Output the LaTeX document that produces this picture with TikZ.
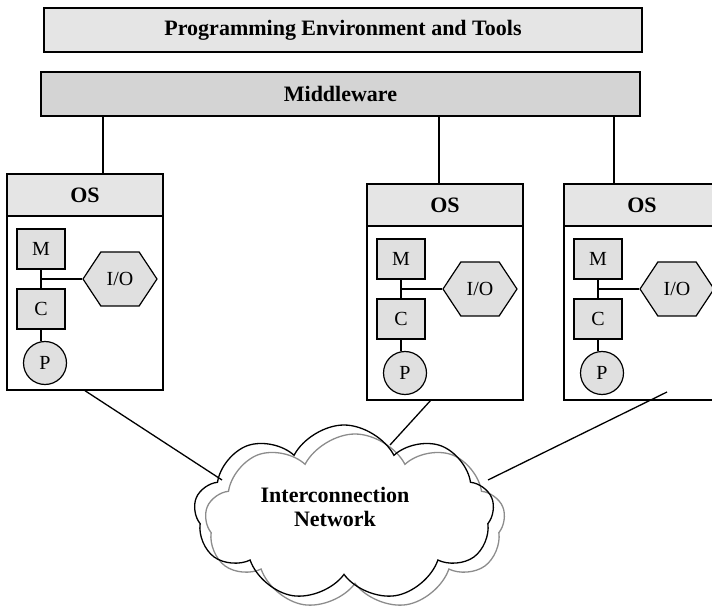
\documentclass[tikz,border=0pt]{standalone}
\usepackage{fontspec}
\setmainfont{Liberation Serif}
\usetikzlibrary{shapes.symbols,shapes.geometric}
\definecolor{barlight}{gray}{0.90}
\definecolor{bardark}{gray}{0.83}
\definecolor{partfill}{gray}{0.88}
\definecolor{shadowgray}{gray}{0.55}
\tikzset{
  lw/.style={line width=1.4pt},
  conn/.style={line width=1.3pt},
  bar/.style={draw, lw, rectangle, inner sep=0pt, minimum height=44,
    font=\fontsize{22}{24}\selectfont\bfseries},
  osbox/.style={draw, lw, rectangle, fill=white, inner sep=0pt, minimum width=156, minimum height=216},
  oshead/.style={draw, lw, rectangle, fill=barlight, inner sep=0pt, minimum width=156, minimum height=42,
    font=\fontsize{22}{24}\selectfont\bfseries},
  part/.style={draw, line width=1.2pt, rectangle, fill=partfill, inner sep=0pt, minimum width=48, minimum height=40,
    font=\fontsize{20}{22}\selectfont},
  proc/.style={draw, line width=1.2pt, circle, fill=partfill, inner sep=0pt, minimum size=43,
    font=\fontsize{20}{22}\selectfont},
  iohex/.style={draw, line width=1.2pt, signal, signal to=east and west, signal pointer angle=113,
    fill=partfill, inner sep=0pt, minimum width=74, minimum height=54,
    font=\fontsize{20}{22}\selectfont},
  netcloud/.style={cloud, cloud puffs=9, cloud puff arc=125, cloud ignores aspect,
    minimum width=300, minimum height=176, inner sep=0pt, line width=1.3pt},
  osunit/.pic={
    \node[osbox] (-box) at (78,108) {};
    \node[oshead] (-head) at (78,21) {OS};
    \node[part] (-M) at (34,75) {M};
    \node[part] (-C) at (34,135) {C};
    \node[proc] (-P) at (38,189) {P};
    \node[iohex] (-io) at (113,105) {I/O};
    \draw[conn] (-M) -- (-C);
    \draw[conn] (-C.south) -- (-C.south |- -P.north);
    \draw[conn] (-io.west) -- (-io.west -| -M.south);
  }
}
\begin{document}
\begin{tikzpicture}[x=1pt,y=-1pt]
\useasboundingbox (0,0) rectangle (712,609);
\clip (0,0) rectangle (712,609);

\node[bar, fill=barlight, minimum width=598] (pet) at (343,30) {Programming Environment and Tools};
\node[bar, fill=bardark, minimum width=599] (mw) at (340.5,94) {Middleware};

\pic (L) at (7,174) {osunit};
\pic (M) at (367,184) {osunit};
\pic (R) at (564,184) {osunit};

\coordinate (dL) at (103,174);
\coordinate (dM) at (439,184);
\coordinate (dR) at (614,184);
\draw[conn] (mw.south -| dL) -- (dL);
\draw[conn] (mw.south -| dM) -- (dM);
\draw[conn] (mw.south -| dR) -- (dR);

\node[netcloud, draw=shadowgray, shape border rotate=10] (netshadow) at (355,522) {};
\node[netcloud, draw=black] (net) at (344,513) {};
\node[align=center, font=\fontsize{22}{24}\selectfont\bfseries] (nettext) at (335,507) {Interconnection\\Network};

\coordinate (eL) at (222,480);
\coordinate (sM) at (431,400);
\coordinate (eM) at (390,445);
\coordinate (sR) at (667,392);
\coordinate (eR) at (488,480);
\draw[conn] (L-box.south) -- (eL);
\draw[conn] (sM) -- (eM);
\draw[conn] (sR) -- (eR);
\end{tikzpicture}
\end{document}
